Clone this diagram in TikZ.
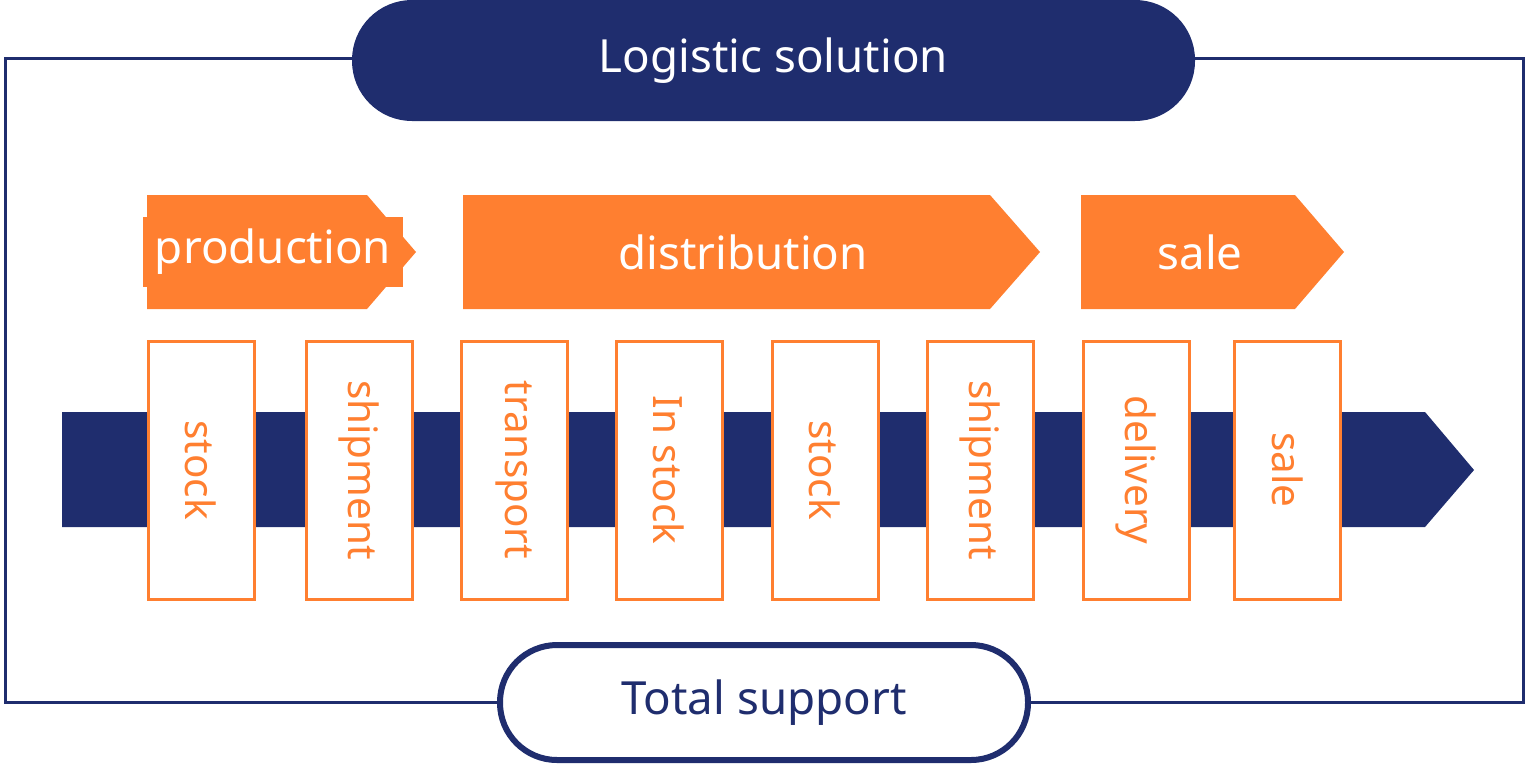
\documentclass[tikz,border=0pt]{standalone}
\usepackage{fontspec}
\setmainfont{Noto Sans}
\definecolor{navy}{HTML}{1F2D6E}
\definecolor{orng}{HTML}{FF7F30}
\tikzset{
	pill/.style={rounded corners=0.57cm, line width=0.6mm, draw=navy, minimum height=1.15cm, inner sep=0pt, font=\fontsize{13}{13}\selectfont},
	phase/.style={fill=orng, text=white, font=\fontsize{13}{13}\selectfont},
	box/.style={draw=orng, fill=white, line width=0.3mm, minimum width=1.06cm, minimum height=2.58cm, inner sep=0pt},
	word/.style={rotate=-90, text=orng, font=\fontsize{11.5}{11.5}\selectfont}
}
\begin{document}
\begin{tikzpicture}
		\useasboundingbox (0,0) rectangle (15.28,7.64);
		\draw[navy, line width=0.3mm] (0.06,0.62) rectangle (15.23,7.06);

		% process arrow
		\fill[navy] (0.62,2.37) -- (14.25,2.37) -- (14.74,2.94) -- (14.25,3.52) -- (0.62,3.52) -- cycle;

		% phases
		\fill[orng] (1.47,4.55) -- (3.67,4.55) -- (4.16,5.12) -- (3.67,5.69) -- (1.47,5.69) -- cycle;
		\fill[orng] (4.63,4.55) -- (9.90,4.55) -- (10.40,5.12) -- (9.90,5.69) -- (4.63,5.69) -- cycle;
		\fill[orng] (10.81,4.55) -- (12.95,4.55) -- (13.44,5.12) -- (12.95,5.69) -- (10.81,5.69) -- cycle;
		\node (prod) [phase] at (2.73,5.12) {production};
		\node (dist) [phase] at (7.43,5.12) {distribution};
		\node (sale) [phase] at (12.00,5.12) {sale};

		% steps
		\foreach \x/\t [count=\i] in {2.01/stock, 3.59/shipment, 5.14/transport, 6.69/In stock, 8.25/stock, 9.80/shipment, 11.36/delivery, 12.875/sale}
			\node (s\i) [box] at (\x,2.94) {} node[word] at (\x,2.94) {\t};

		\node (top) [pill, fill=navy, text=white, minimum width=8.37cm] at (7.735,7.035) {Logistic solution};
		\node (bot) [pill, fill=white, text=navy, minimum width=5.28cm] at (7.64,0.615) {Total support};
	\end{tikzpicture}
\end{document}
